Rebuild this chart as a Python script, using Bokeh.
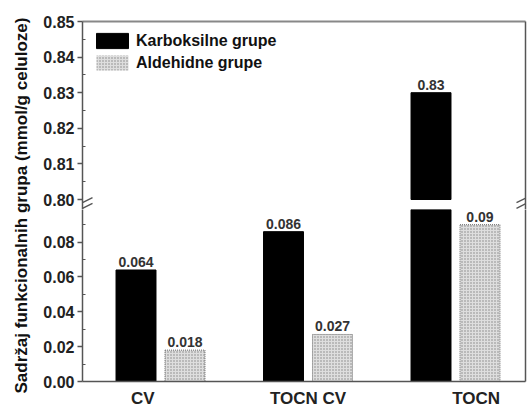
from math import pi
from bokeh.plotting import figure
from bokeh.models import (Range1d, LinearAxis, FixedTicker, Label, Legend, LegendItem,
                          PrintfTickFormatter, ColumnDataSource, CDSView, IndexFilter)
from bokeh.layouts import row, column
from bokeh.core.properties import value
from bokeh.embed import file_html
from bokeh.resources import INLINE

# ---------------- data ----------------
categories = ["CV", "TOCN CV", "TOCN"]
carboxyl = [0.064, 0.086, 0.83]
aldehyde = [0.018, 0.027, 0.09]
carboxyl_labels = ["0.064", "0.086", "0.83"]
aldehyde_labels = ["0.018", "0.027", "0.09"]
series_names = ["Karboksilne grupe", "Aldehidne grupe"]
upper_ticks = [0.80, 0.81, 0.82, 0.83, 0.84, 0.85]
upper_minor = [0.805, 0.815, 0.825, 0.835, 0.845]
lower_ticks = [0.00, 0.02, 0.04, 0.06, 0.08]
lower_minor = [0.01, 0.03, 0.05, 0.07, 0.09]
y_title = "Sadržaj funkcionalnih grupa (mmol/g celuloze)"

# ---------------- style ----------------
FONT = "Liberation Sans"
AX = "#555555"
BAR_W = 0.271
OFF = 0.166
LABEL_SHIFT = [-0.12, 0.0, 0.14]
BREAK_LOW = 0.80          # where the upper panel starts
UP_TOP = 0.85
UP_PX = 188               # upper frame height (includes the white break gap)
LOW_PX = 174
UP_SCALE = 178 / 0.05     # px per unit in the upper panel
LOW_SCALE = 1762.5        # px per unit in the lower panel
BLACK = dict(fill_color="black", line_color="black", line_width=1)
HATCH = dict(fill_color="#dedede", hatch_pattern="dot", hatch_color="#848484",
             hatch_scale=3, hatch_weight=1)

up_range = Range1d(UP_TOP - UP_PX / UP_SCALE, UP_TOP)
low_range = Range1d(0.0, LOW_PX / LOW_SCALE)

pos = [i + 1 for i in range(len(categories))]
xc = [p - OFF for p in pos]
xa = [p + OFF for p in pos]

xr = Range1d(0.4712, 3.4746)
X_PX = 147.5              # px per x unit


def line_axis(color, width):
    return LinearAxis(ticker=FixedTicker(ticks=[]), major_tick_out=0, major_tick_in=0,
                      minor_tick_out=0, minor_tick_in=0, major_label_standoff=0,
                      major_label_text_font_size="0px", axis_line_color=color,
                      axis_line_width=width)


def value_axis(ticks, minor):
    return LinearAxis(ticker=FixedTicker(ticks=ticks, minor_ticks=minor),
                      formatter=PrintfTickFormatter(format="%.2f"),
                      major_tick_out=5, major_tick_in=0, minor_tick_in=3, minor_tick_out=0,
                      axis_line_color=AX, axis_line_width=1.5,
                      major_tick_line_color=AX, minor_tick_line_color=AX,
                      major_tick_line_width=1.5,
                      major_label_text_font=FONT, major_label_text_font_style="bold",
                      major_label_text_font_size="16px", major_label_text_color="#222222",
                      major_label_standoff=3)


def add_labels(p, src, vals, lo, hi):
    tv = CDSView(filter=IndexFilter([i for i, v in enumerate(vals) if lo < v < hi]))
    p.text(x="x", y="top", text="lab", source=src, view=tv,
           text_font=value(FONT), text_font_style="bold",
           text_font_size="14px", text_color="#333333", text_align="center",
           text_baseline="bottom", y_offset=-3)


# ---------------- upper panel ----------------
up = figure(width=493, height=21 + UP_PX, x_range=xr, y_range=up_range,
            x_axis_type=None, y_axis_type=None, output_backend="svg",
            toolbar_location=None, min_border_left=48, min_border_right=2,
            min_border_top=21, min_border_bottom=0, outline_line_color=None)
up.add_layout(value_axis(upper_ticks, upper_minor), "left")
up.add_layout(line_axis("#888888", 2), "above")
up.add_layout(line_axis(AX, 1.5), "right")

src_cu = ColumnDataSource(dict(x=xc, top=carboxyl, lab=carboxyl_labels))
view_cu = CDSView(filter=IndexFilter([i for i, v in enumerate(carboxyl) if v > BREAK_LOW]))
rc = up.vbar(x="x", top="top", bottom=BREAK_LOW, width=BAR_W, source=src_cu,
             view=view_cu, **BLACK)
# aldehyde values lie below the break: clamp to the break line (zero height, invisible)
src_au = ColumnDataSource(dict(x=xa, top=[max(v, BREAK_LOW) for v in aldehyde],
                               lab=aldehyde_labels))
ra = up.vbar(x="x", top="top", bottom=BREAK_LOW, width=BAR_W, source=src_au,
             line_color=None, **HATCH)
add_labels(up, src_cu, carboxyl, BREAK_LOW, UP_TOP)

legend = Legend(items=[LegendItem(label=series_names[0], renderers=[rc]),
                       LegendItem(label=series_names[1], renderers=[ra])],
                location="top_left", margin=10, padding=0, spacing=3,
                glyph_width=40, glyph_height=19, label_height=19, label_standoff=4,
                label_text_font=FONT, label_text_font_style="bold",
                label_text_font_size="16px", label_text_color="#111111",
                border_line_alpha=0, background_fill_alpha=0)
up.add_layout(legend)

# break marks (two short slanted strokes in the gap, left and right)
gap_mid = BREAK_LOW - 3.5 / UP_SCALE
for x0 in (xr.start, xr.end - 9 / X_PX):
    for dy in (-2.8, 2.8):
        yc = gap_mid + dy / UP_SCALE
        up.segment(x0=[x0], y0=[yc - 2.5 / UP_SCALE], x1=[x0 + 10 / X_PX],
                   y1=[yc + 2.5 / UP_SCALE], line_color=AX, line_width=1.3)

# ---------------- lower panel ----------------
low = figure(width=493, height=LOW_PX + 27, x_range=xr, y_range=low_range,
             x_axis_type=None, y_axis_type=None, output_backend="svg",
             toolbar_location=None, min_border_left=48, min_border_right=2,
             min_border_top=0, min_border_bottom=27, outline_line_color=None)
low.add_layout(value_axis(lower_ticks, lower_minor), "left")
low.add_layout(line_axis(AX, 1.5), "right")
tick_pos = [p + s for p, s in zip(pos, LABEL_SHIFT)]
xaxis = LinearAxis(ticker=FixedTicker(ticks=tick_pos),
                   major_label_overrides={t: c for t, c in zip(tick_pos, categories)},
                   major_tick_out=0, major_tick_in=0, minor_tick_out=0, minor_tick_in=0,
                   axis_line_color=AX, axis_line_width=1.5,
                   major_label_text_font=FONT, major_label_text_font_style="bold",
                   major_label_text_font_size="17px", major_label_text_color="#222222",
                   major_label_standoff=7)
low.add_layout(xaxis, "below")

src_cl = ColumnDataSource(dict(x=xc, top=carboxyl, lab=carboxyl_labels))
src_al = ColumnDataSource(dict(x=xa, top=aldehyde, lab=aldehyde_labels))
low.vbar(x="x", top="top", bottom=0, width=BAR_W, source=src_cl, **BLACK)
low.vbar(x="x", top="top", bottom=0, width=BAR_W, source=src_al,
         line_color="#666666", line_dash="1 1", line_width=1, **HATCH)
add_labels(low, src_cl, carboxyl, -1, low_range.end)
add_labels(low, src_al, aldehyde, -1, low_range.end)

# ---------------- y title ----------------
H = 21 + UP_PX + LOW_PX + 27
tf = figure(width=34, height=H, x_range=Range1d(0, 34), y_range=Range1d(0, H),
            x_axis_type=None, y_axis_type=None, output_backend="svg",
            toolbar_location=None, min_border=0, outline_line_color=None)
tf.add_layout(Label(x=21, y=H - 205, text=y_title, angle=pi / 2, text_align="center",
                    text_baseline="middle", text_font=FONT, text_font_style="bold",
                    text_font_size="17px", text_color="#111111"))

layout = row(tf, column(up, low))
open("out.html", "w").write(file_html(layout, INLINE))
